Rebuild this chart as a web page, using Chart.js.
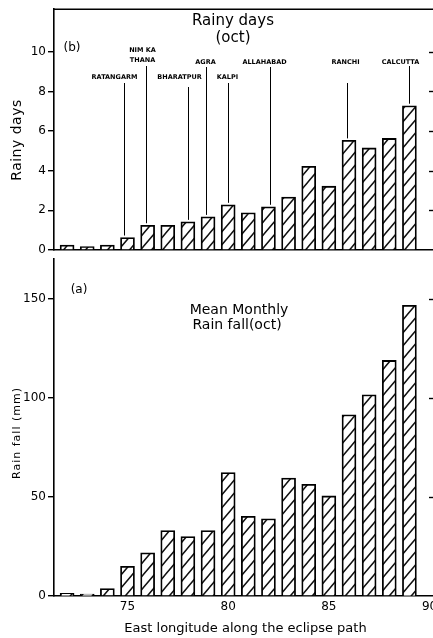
<!DOCTYPE html>
<html>
<head>
<meta charset="utf-8">
<script src="https://cdn.jsdelivr.net/npm/chart.js@4.4.1/dist/chart.umd.min.js"></script>
<style>
  html, body { margin: 0; padding: 0; background: #fff; overflow: hidden; }
  #wrap { position: relative; width: 460px; height: 638px; }
  #rainyDays { position: absolute; left: 0; top: 0; }
  #rainFall { position: absolute; left: 0; top: 250px; }
</style>
</head>
<body>
<div id="wrap">
  <canvas id="rainyDays" width="460" height="262"></canvas>
  <canvas id="rainFall" width="460" height="388"></canvas>
</div>
<script>
var longitudes = [72, 73, 74, 75, 76, 77, 78, 79, 80, 81, 82, 83, 84, 85, 86, 87, 88, 89];
var rainyDays = [0.25, 0.17, 0.25, 0.63, 1.25, 1.25, 1.42, 1.67, 2.28, 1.88, 2.18, 2.67, 4.22, 3.22, 5.53, 5.15, 5.63, 7.28];
var rainFall = [1.3, 1, 3.8, 15, 21.8, 33, 30, 33, 62.3, 40.2, 39, 59.5, 56.4, 50.5, 91.5, 101.6, 118.9, 146.7];

var lonTicks = [75, 80, 85, 90];
var dayTicks = [0, 2, 4, 6, 8, 10];
var rainTicks = [0, 50, 100, 150];

var stationNames = ['RATANGARM', 'NIM KA\nTHANA', 'BHARATPUR', 'AGRA', 'KALPI', 'ALLAHABAD', 'RANCHI', 'CALCUTTA'];
var stationLon = [75, 76, 78, 79, 80, 82, 86, 89];

// leader line shift from bar centre, name shift from leader, name row, leader top
var stationLayout = [
  { lx: -3, nx: -10, ny: [77], top: 83 },
  { lx: -2, nx: -4, ny: [50, 60], top: 66 },
  { lx: 0, nx: -9, ny: [77], top: 87 },
  { lx: -2, nx: -1, ny: [62], top: 67 },
  { lx: 0, nx: -1, ny: [77], top: 83 },
  { lx: 2, nx: -6, ny: [62], top: 67 },
  { lx: -2, nx: -2, ny: [62], top: 83 },
  { lx: 0, nx: -9, ny: [62], top: 66 }
];

var FONT = "'DejaVu Sans', sans-serif";
var X_MIN = 71.35, X_MAX = 90.37;

// diagonal "/" shading used inside every bar
function hatch(canvas) {
  var w = 11, h = 13;
  var c = document.createElement('canvas');
  c.width = w; c.height = h;
  var g = c.getContext('2d');
  g.fillStyle = '#fff';
  g.fillRect(0, 0, w, h);
  g.strokeStyle = '#111';
  g.lineWidth = 1.5;
  g.beginPath();
  g.moveTo(-w, 2 * h); g.lineTo(2 * w, -h);
  g.moveTo(-w, h); g.lineTo(w, -h);
  g.moveTo(0, 2 * h); g.lineTo(2 * w, 0);
  g.stroke();
  return canvas.getContext('2d').createPattern(c, 'repeat');
}

function points(values) {
  return longitudes.map(function (x, i) { return { x: x, y: values[i] }; });
}

function rightTicks(chart, values) {
  var ctx = chart.ctx, a = chart.chartArea, y = chart.scales.y;
  ctx.save();
  ctx.strokeStyle = '#000';
  ctx.lineWidth = 1.4;
  values.forEach(function (v) {
    var py = Math.round(y.getPixelForValue(v)) + 0.5;
    ctx.beginPath();
    ctx.moveTo(a.right - 8, py);
    ctx.lineTo(a.right, py);
    ctx.stroke();
  });
  ctx.restore();
}

function sideTitle(ctx, text, x, y, size, spacing) {
  ctx.save();
  ctx.translate(x, y);
  ctx.rotate(-Math.PI / 2);
  ctx.font = size + 'px ' + FONT;
  ctx.letterSpacing = spacing + 'px';
  ctx.textAlign = 'center';
  ctx.textBaseline = 'middle';
  ctx.fillStyle = '#000';
  ctx.fillText(text, 0, 0);
  ctx.restore();
}

var yAxisBase = {
  grid: { drawOnChartArea: false, tickLength: 6, color: '#000', lineWidth: 1.4 },
  border: { color: '#000', width: 1.6 },
  ticks: { color: '#000', font: { family: FONT, size: 12 }, padding: 2 },
  afterFit: function (s) { s.width = 54; }
};

var dayPanel = {
  id: 'dayPanel',
  afterDraw: function (chart) {
    var ctx = chart.ctx, a = chart.chartArea, xs = chart.scales.x, ys = chart.scales.y;
    ctx.save();
    ctx.strokeStyle = '#000';
    ctx.lineWidth = 1.6;
    ctx.beginPath();
    ctx.moveTo(a.left, a.top);
    ctx.lineTo(a.right, a.top);
    ctx.stroke();
    ctx.restore();
    rightTicks(chart, dayTicks.slice(1));

    ctx.save();
    ctx.fillStyle = '#000';
    ctx.textAlign = 'center';
    ctx.textBaseline = 'middle';
    ctx.font = '15px ' + FONT;
    ctx.fillText('Rainy days', 233, 21);
    ctx.fillText('(oct)', 233, 38);
    ctx.font = '12px ' + FONT;
    ctx.fillText('(b)', 72, 48);

    ctx.strokeStyle = '#000';
    ctx.lineWidth = 1;
    ctx.font = 'bold 6.5px ' + FONT;
    stationNames.forEach(function (name, i) {
      var lay = stationLayout[i];
      var k = longitudes.indexOf(stationLon[i]);
      var lx = Math.round(xs.getPixelForValue(stationLon[i]) + lay.lx) + 0.5;
      var bottom = ys.getPixelForValue(rainyDays[k]) - 2;
      ctx.beginPath();
      ctx.moveTo(lx, lay.top);
      ctx.lineTo(lx, bottom);
      ctx.stroke();
      name.split('\n').forEach(function (line, j) {
        ctx.fillText(line, lx + lay.nx, lay.ny[j]);
      });
    });
    ctx.restore();
    sideTitle(ctx, 'Rainy days', 17, 140, 14, 0.5);
  }
};

var rainPanel = {
  id: 'rainPanel',
  afterDraw: function (chart) {
    var ctx = chart.ctx;
    rightTicks(chart, rainTicks.slice(1));
    ctx.save();
    ctx.fillStyle = '#000';
    ctx.textAlign = 'center';
    ctx.textBaseline = 'middle';
    ctx.font = '14px ' + FONT;
    ctx.fillText('Mean Monthly', 239, 60);
    ctx.fillText('Rain fall(oct)', 237, 75);
    ctx.font = '12px ' + FONT;
    ctx.fillText('(a)', 79, 40);
    ctx.restore();
    sideTitle(ctx, 'Rain fall (mm)', 17, 183, 11, 1);
  }
};

var dayCanvas = document.getElementById('rainyDays');
new Chart(dayCanvas, {
  type: 'bar',
  data: {
    datasets: [{
      data: points(rainyDays),
      backgroundColor: hatch(dayCanvas),
      borderColor: '#000',
      borderWidth: 1.8,
      barThickness: 14
    }]
  },
  options: {
    responsive: false,
    animation: false,
    layout: { padding: { top: 6, right: 23, left: 0, bottom: 0 } },
    plugins: { legend: { display: false }, tooltip: { enabled: false } },
    scales: {
      x: {
        type: 'linear', min: X_MIN, max: X_MAX, offset: false,
        grid: { display: false },
        border: { color: '#000', width: 1.6 },
        ticks: { display: false },
        afterFit: function (s) { s.height = 12; }
      },
      y: Object.assign({}, yAxisBase, {
        min: 0, max: 12.15,
        afterBuildTicks: function (s) { s.ticks = dayTicks.map(function (v) { return { value: v }; }); }
      })
    }
  },
  plugins: [dayPanel]
});

var rainCanvas = document.getElementById('rainFall');
new Chart(rainCanvas, {
  type: 'bar',
  data: {
    datasets: [{
      data: points(rainFall),
      backgroundColor: hatch(rainCanvas),
      borderColor: '#000',
      borderWidth: 1.8,
      barThickness: 14
    }]
  },
  options: {
    responsive: false,
    animation: false,
    layout: { padding: { top: 0, right: 23, left: 0, bottom: 0 } },
    plugins: { legend: { display: false }, tooltip: { enabled: false } },
    scales: {
      x: {
        type: 'linear', min: X_MIN, max: X_MAX, offset: false,
        grid: { display: false, drawTicks: false },
        border: { color: '#000', width: 1.6 },
        ticks: { color: '#000', font: { family: FONT, size: 12 }, padding: 4, maxRotation: 0, autoSkip: false },
        afterBuildTicks: function (s) { s.ticks = lonTicks.map(function (v) { return { value: v }; }); },
        title: {
          display: true, text: 'East longitude along the eclipse path', color: '#000',
          font: { family: FONT, size: 13 }, padding: { top: 0, bottom: 2 }
        },
        afterFit: function (s) { s.height = 42; }
      },
      y: Object.assign({}, yAxisBase, {
        min: 0, max: 170,
        afterBuildTicks: function (s) { s.ticks = rainTicks.map(function (v) { return { value: v }; }); }
      })
    }
  },
  plugins: [rainPanel]
});
</script>
</body>
</html>
